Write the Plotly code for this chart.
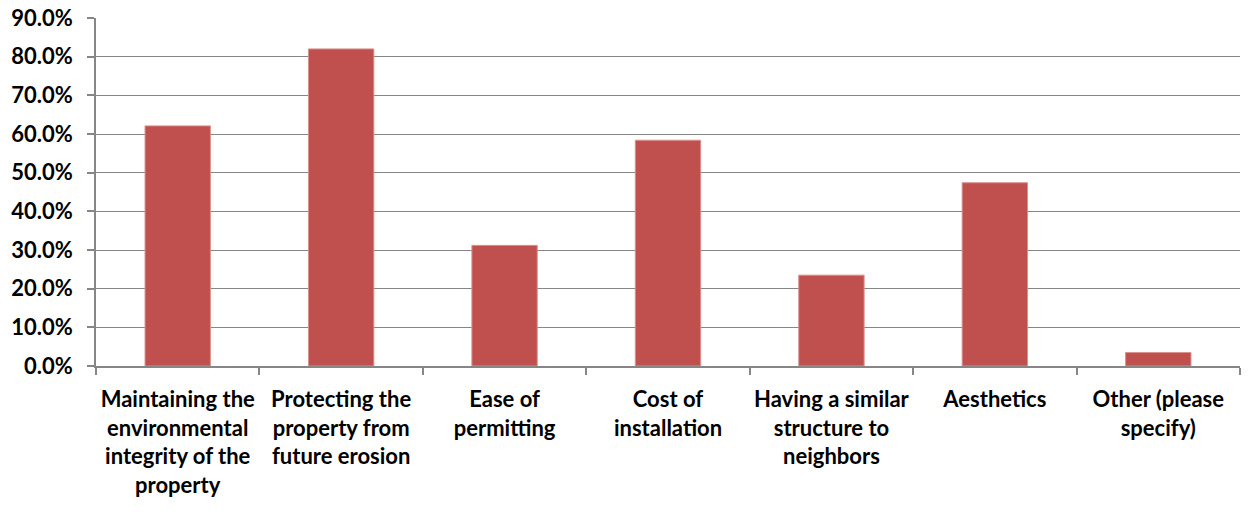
import plotly.graph_objects as go

categories = [
    "Maintaining the<br>environmental<br>integrity of the<br>property",
    "Protecting the<br>property from<br>future erosion",
    "Ease of<br>permitting",
    "Cost of<br>installation",
    "Having a similar<br>structure to<br>neighbors",
    "Aesthetics",
    "Other (please<br>specify)",
]
values = [0.621, 0.820, 0.312, 0.584, 0.235, 0.474, 0.035]

fig = go.Figure(
    go.Bar(
        x=categories,
        y=values,
        marker=dict(color="#C0504D", line=dict(color="#D9918F", width=1)),
        width=0.4,
    )
)

fig.update_layout(
    width=1249,
    height=512,
    margin=dict(l=96, r=9, t=18, b=146),
    plot_bgcolor="white",
    paper_bgcolor="white",
    font=dict(family="Lato, Open Sans, sans-serif", size=22, color="#000000", weight="bold"),
    showlegend=False,
    bargap=0.6,
)
fig.update_xaxes(
    showline=True,
    linecolor="#868686",
    linewidth=1.5,
    ticks="outside",
    tickson="boundaries",
    ticklen=7,
    tickcolor="#868686",
    tickwidth=1.5,
    showgrid=False,
    tickangle=0,
    ticklabelstandoff=13,
    automargin=False,
)
fig.update_yaxes(
    range=[0, 0.9],
    dtick=0.1,
    tickformat=".1%",
    showline=True,
    linecolor="#868686",
    linewidth=1.5,
    ticks="outside",
    ticklen=7,
    tickcolor="#868686",
    tickwidth=1.5,
    showgrid=True,
    gridcolor="#868686",
    gridwidth=1,
    zeroline=False,
    ticklabelstandoff=10,
    automargin=False,
    ticklabeloverflow="allow",
)

fig.write_html("out.html")
